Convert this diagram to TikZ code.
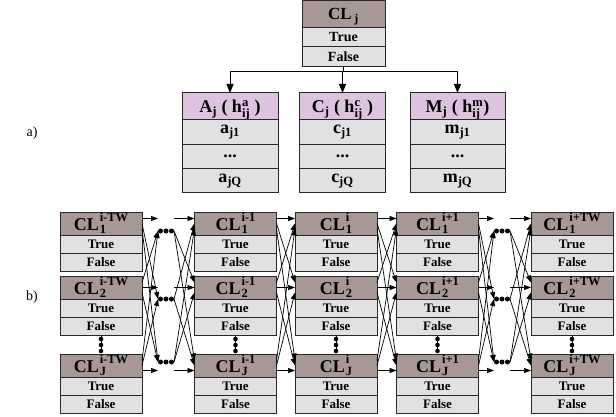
\documentclass[tikz,border=0pt]{standalone}
\usepackage{amsmath}
\usepackage{fontspec}
\setmainfont{Liberation Serif}
\usepackage{tikz}
\usetikzlibrary{
        arrows.meta,
        positioning
    }
\definecolor{clbrown}{RGB}{167,152,149}
\definecolor{cellgray}{RGB}{225,225,228}
\definecolor{attrpink}{RGB}{220,196,222}
\definecolor{linegray}{RGB}{40,40,40}
\tikzset{>={Triangle[length=7pt,width=5pt]},shorten >=0pt}
\tikzset{
  cell/.style={draw=linegray,line width=1pt,fill=cellgray,inner sep=0pt,outer sep=0pt},
  clhead/.style={cell,fill=clbrown,minimum width=82pt,minimum height=23pt,
    text height=13pt,text depth=0pt,font=\bfseries\fontsize{18}{18}\selectfont},
  clrow/.style={cell,minimum width=82pt,minimum height=18pt,font=\bfseries\fontsize{13}{13}\selectfont},
  tophead/.style={cell,fill=clbrown,minimum width=83pt,minimum height=27pt,
    text height=11pt,text depth=0pt,font=\bfseries\fontsize{17}{17}\selectfont},
  toprow/.style={cell,minimum width=83pt,minimum height=19.5pt,font=\bfseries\fontsize{14}{14}\selectfont},
  attrhead/.style={cell,fill=attrpink,minimum height=27pt,
    text height=12pt,text depth=0pt,font=\bfseries\fontsize{18}{18}\selectfont},
  attrrow/.style={cell,minimum height=24.3pt,font=\bfseries\fontsize{18}{18}\selectfont},
  dotgroup/.style={minimum width=16pt,minimum height=5pt,inner sep=0pt,outer sep=0pt},
  conn/.style={line width=0.7pt},
  bigarrow/.style={line width=0.8pt,-{Triangle[length=9pt,width=7pt]}},
  lbl/.style={font=\fontsize{14}{14}\selectfont}
}
% CL with a time index stacked over a variable index
\newcommand{\slicetag}[2]{CL\kern1pt\raisebox{-3pt}{\fontsize{12.5}{10}\selectfont
  \begin{tabular}[b]{@{}l@{}}#1\\#2\end{tabular}}}

\begin{document}
\begin{tikzpicture}[x=1pt,y=-1pt]
\useasboundingbox (0,0) rectangle (616,417);

% a) class node and its attributes
\node[tophead] (clj) at (343.5,14) {CL\,$_{\text{j}}$};
\node[toprow,below=0pt of clj] (cljt) {True};
\node[toprow,below=0pt of cljt] (cljf) {False};

\node[attrhead,minimum width=96pt] (ahdr) at (230,106.5) {A$_{\text{j}}$ ( h$^{\text{a}}_{\text{ij}}$ )};
\node[attrrow,minimum width=96pt,below=0pt of ahdr] (a1) {a$_{\text{j1}}$};
\node[attrrow,minimum width=96pt,below=0pt of a1] (a2) {...};
\node[attrrow,minimum width=96pt,below=0pt of a2] (a3) {a$_{\text{jQ}}$};

\node[attrhead,minimum width=86pt] (chdr) at (342.5,106.5) {C$_{\text{j}}$ ( h$^{\text{c}}_{\text{ij}}$ )};
\node[attrrow,minimum width=86pt,below=0pt of chdr] (c1) {c$_{\text{j1}}$};
\node[attrrow,minimum width=86pt,below=0pt of c1] (c2) {...};
\node[attrrow,minimum width=86pt,below=0pt of c2] (c3) {c$_{\text{jQ}}$};

\node[attrhead,minimum width=95pt] (mhdr) at (457.5,106.5) {M$_{\text{j}}$ ( h$^{\text{m}}_{\text{ij}}$)};
\node[attrrow,minimum width=95pt,below=0pt of mhdr] (m1) {m$_{\text{j1}}$};
\node[attrrow,minimum width=95pt,below=0pt of m1] (m2) {...};
\node[attrrow,minimum width=95pt,below=0pt of m2] (m3) {m$_{\text{jQ}}$};

\draw[conn] (cljf.south) -- ++(0,5) coordinate (fork);
\draw[bigarrow] (fork) -| (ahdr.north);
\draw[bigarrow] (fork) -| (chdr.north);
\draw[bigarrow] (fork) -| (mhdr.north);

\node[lbl] (la) at (32,133) {a)};
\node[lbl] (lb) at (32,297) {b)};

% b) time slices
\foreach \cc/\x/\lab in {1/101/i-TW,2/235.5/i-1,3/336/i,4/437.5/i+1,5/572/i+TW}{
  \foreach \rr/\y/\idx in {1/223.5/1,2/287.5/2,3/365.5/J}{
    \node[clhead] (h\cc\rr) at (\x,\y) {\slicetag{\lab}{\idx}};
    \node[clrow,below=0pt of h\cc\rr] (t\cc\rr) {True};
    \node[clrow,below=0pt of t\cc\rr] (f\cc\rr) {False};
    \foreach \ss in {1,2,3}{
      \coordinate (e\cc\rr\ss) at ([yshift={(2-\ss)*5pt}]h\cc\rr.east);
      \coordinate (w\cc\rr\ss) at ([yshift={(2-\ss)*5pt}]h\cc\rr.west);
    }
  }
  \draw[line width=0.8pt] (\x,336) -- (\x,353);
  \fill (\x,339) circle (2.3pt) (\x,345) circle (2.3pt) (\x,351) circle (2.3pt);
}

% links between neighbouring slices
\foreach \a/\b in {2/3,3/4}
  \foreach \rr in {1,2,3}
    \foreach \ss in {1,2,3}
      \draw[conn,->] (e\a\rr\ss) -- (w\b\ss\rr);

% gaps with omitted slices
\foreach \a/\b/\m in {1/2/166,4/5/502}{
  \foreach \rr/\dy in {1/231,2/299,3/362}{
    \node[dotgroup] (d\a\rr) at (\m,\dy) {};
    \fill (d\a\rr.center) circle (2.5pt) ([xshift=-5.5pt]d\a\rr.center) circle (2.5pt)
      ([xshift=5.5pt]d\a\rr.center) circle (2.5pt);
  }
  \foreach \rr in {1,2,3}
    \foreach \ss in {1,2,3}{
      \ifnum\rr=\ss
        \draw[conn,->] (e\a\rr\rr) -- (e\a\rr\rr -| d\a\rr.west);
        \draw[conn,->] (w\b\rr\rr -| d\a\rr.east) -- (w\b\rr\rr);
      \else
        \draw[conn,->] (e\a\rr\ss) -- (d\a\ss.west);
        \draw[conn,->] (d\a\rr.east) -- (w\b\ss\rr);
      \fi
    }
}
\end{tikzpicture}
\end{document}
